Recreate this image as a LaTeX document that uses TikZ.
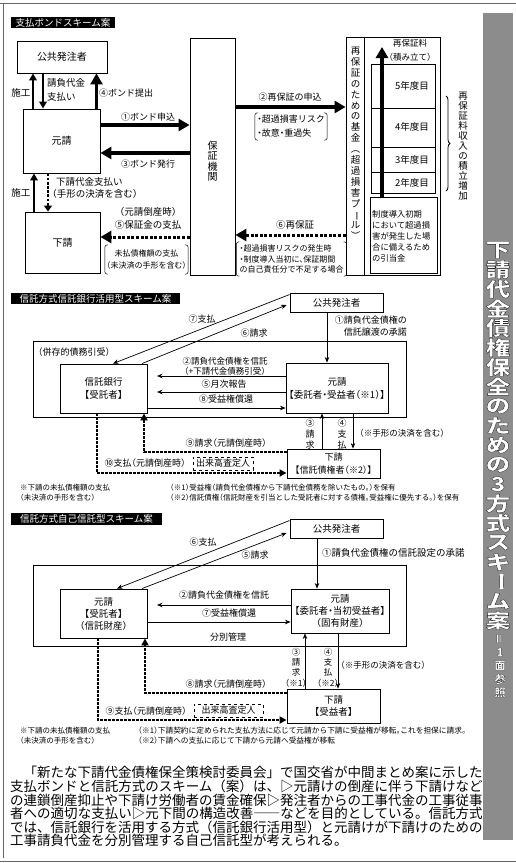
\documentclass[tikz,border=0pt]{standalone}
\usepackage{fontspec}
\setmainfont{Noto Sans CJK JP}[RawFeature={+halt}]
\newfontfamily\parafont{Noto Sans CJK JP}
\newfontfamily\titlefont{Noto Sans CJK JP}[FakeBold=1.6]
\usetikzlibrary{arrows.meta,decorations.pathreplacing,calc}
\newcommand\myfs[2]{\fontsize{#1}{#2}\selectfont}
\newcommand\vbar{\rotatebox[origin=c]{-90}{ー}}
\newcommand\outl{\special{pdf:literal direct 0.15 G}}
\newcommand\brk[1]{%
  \draw[line width=0.5pt,rounded corners=2.5pt] ([xshift=3pt]#1.north west) -- (#1.north west) -- (#1.south west) -- ([xshift=3pt]#1.south west);
  \draw[line width=0.5pt,rounded corners=2.5pt] ([xshift=-3pt]#1.north east) -- (#1.north east) -- (#1.south east) -- ([xshift=-3pt]#1.south east);}
\tikzset{
  box/.style={draw,line width=0.9pt,inner sep=0pt,align=center,font=\myfs{9.5}{12}},
  lbl/.style={inner sep=0pt,align=center,font=\myfs{9}{11}},
  ttl/.style={fill=black,text=white,inner sep=0pt,font=\myfs{9.5}{10}},
  tarrow/.style={line width=3.6pt,-{Triangle[length=11pt,width=12pt]}},
  marr/.style={line width=2pt,-{Triangle[length=7pt,width=7.5pt]}},
  tarr/.style={line width=0.7pt,-{Stealth[length=5.5pt,width=4.5pt]}},
  dsha/.style={line width=2.8pt,dash pattern=on 2.8pt off 1.4pt,-{Triangle[length=6pt,width=8pt]}},
  dshb/.style={line width=3pt,dash pattern=on 3pt off 1.6pt,-{Triangle[length=11pt,width=12pt]}},
  dshc/.style={line width=2.4pt,dash pattern=on 2.6pt off 1.4pt,-{Triangle[length=7pt,width=7pt]}},
  dbox/.style={draw,dashed,line width=0.7pt,inner sep=0pt,font=\myfs{9}{11}},
  vt/.style={inner sep=0pt,text=white,font=\titlefont\bfseries\myfs{19.5}{20}},
  vs/.style={inner sep=0pt,text=white,font=\titlefont\bfseries\myfs{11}{12}},
  para/.style={anchor=west,inner sep=0pt,font=\parafont\myfs{13.5}{14}},
}
\begin{document}
\begin{tikzpicture}[x=1pt,y=-1pt]
\useasboundingbox (0,0) rectangle (516,863);
\fill[white] (0,0) rectangle (516,863);
% frame
\draw[line width=0.8pt,black!60] (0,3) -- (516,3);
\draw[line width=0.8pt,black!60] (3,3) -- (3,858);
\draw[line width=0.8pt,black!60] (0,861) -- (516,861);
\fill[black!45] (483,13) rectangle (513,840);

% ================= Section 1 =================
\node[ttl,minimum width=104pt,minimum height=11pt] (t1) at (63,22.5) {支払ボンドスキーム案};
\node[box,minimum width=90pt,minimum height=32pt,font=\myfs{10}{12}] (pub1) at (62,57) {公共発注者};
\node[box,minimum width=77pt,minimum height=64pt,font=\myfs{10}{12}] (gen1) at (61.5,141) {元請};
\node[box,minimum width=75pt,minimum height=61pt,font=\myfs{10}{12}] (sub1) at (62.5,242.5) {下請};
\node[box,minimum width=45pt,minimum height=237pt] (guar) at (212.5,156.5) {};
\node[lbl,font=\myfs{10}{10.5}] (guart) at (212.5,161) {保\\証\\機\\関};
\node[box,minimum width=94pt,minimum height=238pt] (fund) at (393,156) {};
\draw[line width=0.9pt] ($(fund.north west)+(19,0)$) -- ($(fund.south west)+(19,0)$);
\node[lbl,font=\myfs{9.5}{10.9}] (fundt) at (355.5,143.5) {再\\保\\証\\の\\た\\め\\の\\基\\金\\︵\\超\\過\\損\\害\\プ\\\vbar\\ル\\︶};
\node[lbl,font=\myfs{8.5}{14}] (rate) at (410,50) {再保証料\\（積み立て）};
\node[draw,line width=0.7pt,minimum width=64pt,minimum height=129pt,inner sep=0pt] (years) at (403,128.5) {};
\draw[line width=0.7pt] (years.west |- 0,108) -- (years.east |- 0,108);
\draw[line width=0.7pt] (years.west |- 0,147) -- (years.east |- 0,147);
\draw[line width=0.7pt] (years.west |- 0,172) -- (years.east |- 0,172);
\node[lbl,font=\myfs{9.5}{11}] (y5) at (412,86) {5年度目};
\node[lbl,font=\myfs{9.5}{11}] (y4) at (412,127) {4年度目};
\node[lbl,font=\myfs{9.5}{11}] (y3) at (412,159.5) {3年度目};
\node[lbl,font=\myfs{9.5}{11}] (y2) at (412,182.5) {2年度目};
\node[draw,line width=0.7pt,minimum width=67pt,minimum height=76pt,inner sep=0pt] (hikiate) at (403.5,235) {};
\node[lbl,align=left,anchor=west,font=\myfs{8.3}{11}] (hikiatet) at (372,236) {制度導入初期\\において超過損\\害が発生した場\\合に備えるため\\の引当金};
\coordinate (ftop) at (382,47);
\draw[tarrow] (382,0 |- hikiate.north) -- (ftop);
\draw[decorate,decoration={brace,amplitude=4pt},line width=0.8pt] (446,96) -- (446,191);
\node[lbl,font=\myfs{9.5}{10}] (incr) at (463,146) {再\\保\\証\\料\\収\\入\\の\\積\\立\\増\\加};

% arrows section 1
\draw[marr] (33,0 |- gen1.north) -- (33,0 |- pub1.south);
\draw[marr] (43,0 |- pub1.south) -- (43,0 |- gen1.north);
\draw[tarrow] (96.5,0 |- gen1.north) -- (96.5,0 |- pub1.south);
\draw[tarrow] (gen1.east |- 0,125) -- (guar.west |- 0,125);
\draw[tarrow] (guar.west |- 0,153) -- (gen1.east |- 0,153);
\draw[tarrow] (guar.east |- 0,107) -- (fund.west |- 0,107);
\draw[marr] (34,0 |- sub1.north) -- (34,0 |- gen1.south);
\draw[dsha] (48,0 |- gen1.south) -- (48,0 |- sub1.north);
\draw[dshb] (guar.west |- 0,237) -- (sub1.east |- 0,237);
\draw[dshb] (fund.west |- 0,235) -- (guar.east |- 0,235);

% labels section 1
\node[lbl,font=\myfs{9.5}{12}] (l1a) at (21,93) {施工};
\node[lbl,font=\myfs{9.5}{14},align=left,anchor=west] (l1b) at (47,90) {請負代金\\支払い};
\node[lbl] (l1c) at (126,93) {④ボンド提出};
\node[lbl] (l1d) at (148,117) {①ボンド申込};
\node[lbl] (l1e) at (148,164) {③ボンド発行};
\node[lbl,font=\myfs{9.5}{12}] (l1f) at (21,193) {施工};
\node[lbl,font=\myfs{9.5}{11.5},align=left,anchor=west] (l1g) at (52,188) {\hspace{4pt}下請代金支払い\\（手形の決済を含む）};
\node[lbl,font=\myfs{9.5}{13}] (l1h) at (148,218.5) {（元請倒産時）\\⑤保証金の支払};
\node[lbl,font=\myfs{8}{12.5},minimum width=83pt,minimum height=29pt] (l1i) at (146.5,259.5) {未払債権額の支払\\（未決済の手形を含む）};
\brk{l1i}
\node[lbl] (l1j) at (290,97) {②再保証の申込};
\node[lbl,font=\myfs{9}{14},align=left,minimum width=72pt,minimum height=27pt] (l1k) at (291,126.5) {・超過損害リスク\\・故意・重過失};
\brk{l1k}
\node[lbl,font=\myfs{9.5}{11}] (l1l) at (295,225) {⑥再保証};
\node[lbl,font=\myfs{8}{10.5},align=left,minimum width=110pt,minimum height=34pt] (l1m) at (291.5,259) {・超過損害リスクの発生時\\・制度導入当初に、保証期間\\の自己責任分で不足する場合};
\brk{l1m}

% ================= Section 2 =================
\node[ttl,minimum width=169pt,minimum height=11pt] (t2) at (95.5,298.5) {信託方式信託銀行活用型スキーム案};
\node[box,minimum width=93pt,minimum height=19pt] (pub2) at (336.5,302.5) {公共発注者};
\node[draw,line width=0.9pt,minimum width=373pt,minimum height=76pt,inner sep=0pt] (out2) at (219.5,379) {};
\node[box,fill=white,minimum width=87pt,minimum height=49pt,font=\myfs{9.5}{13}] (bank) at (103.5,388.5) {信託銀行\\【受託者】};
\node[box,fill=white,minimum width=102pt,minimum height=50pt,font=\myfs{9.5}{13}] (gen2) at (337,388) {元請\\【委託者・受益者（※1）】};
\node[box,fill=white,minimum width=93pt,minimum height=29pt,font=\myfs{9}{13}] (sub2) at (333.5,463.5) {下請\\【信託債権者（※2）】};

\coordinate (c2a) at ($(pub2.north west)+(0,2)$);
\coordinate (c2b) at ($(pub2.west)+(-3,2.5)$);
\draw[tarr] (c2a) -- (113,0 |- bank.north);
\draw[tarr] (142,0 |- bank.north) -- (c2b);
\draw[tarr] (327,0 |- pub2.south) -- (327,0 |- gen2.north);
\coordinate (c2c) at (157,376);
\coordinate (c2d) at (157,392);
\draw[tarr] (gen2.west |- c2c) -- (c2c);
\draw[tarr] (gen2.west |- c2d) -- (c2d);
\draw[tarr] (bank.east |- 0,408) -- (gen2.west |- 0,408);
\draw[tarr] (322,0 |- sub2.north) -- (322,0 |- gen2.south);
\draw[tarr] (353,0 |- gen2.south) -- (353,0 |- sub2.north);
\draw[dshc] (sub2.west |- 0,452) -| (144,0 |- bank.south);
\draw[dshc] (97,0 |- bank.south) |- (sub2.west |- 0,473);

\node[lbl] (l2a) at (202,319) {⑦支払};
\node[lbl] (l2b) at (254,333) {⑥請求};
\node[lbl,font=\myfs{9}{12},align=right,anchor=east] (l2c) at (407,326) {①請負代金債権の\\信託譲渡の承諾};
\node[lbl] (l2d) at (74,352) {（併存的債務引受）};
\node[lbl,font=\myfs{8.5}{10}] (l2e) at (225,366.5) {②請負代金債権を信託\\（+下請代金債務引受）};
\node[lbl] (l2f) at (224,384) {⑤月次報告};
\node[lbl] (l2g) at (226,399) {⑧受益権償還};
\node[lbl,font=\myfs{9}{11}] (l2h) at (310,434) {③\\請\\求};
\node[lbl,font=\myfs{9}{11}] (l2i) at (342,434) {④\\支\\払};
\node[lbl,font=\myfs{8.5}{11}] (l2j) at (402,433) {（※手形の決済を含む）};
\node[lbl] (l2k) at (226,443) {⑨請求（元請倒産時）};
\node[lbl] (l2l) at (145,463) {⑩支払（元請倒産時）};
\node[dbox,minimum width=60pt,minimum height=13pt] (l2m) at (223,463.5) {出来高査定人};
\node[lbl,font=\myfs{7.5}{9.5},align=left,anchor=west] (n2a) at (20,492.5) {※下請の未払債権額の支払\\（未決済の手形を含む）};
\node[lbl,font=\myfs{7.5}{9.5},align=left,anchor=west] (n2b) at (170,492.5) {（※1）受益権（請負代金債権から下請代金債務を除いたもの。）を保有\\（※2）信託債権（信託財産を引当とした受託者に対する債権。受益権に優先する。）を保有};

% ================= Section 3 =================
\node[ttl,minimum width=151pt,minimum height=12pt] (t3) at (86.5,519) {信託方式自己信託型スキーム案};
\node[box,minimum width=93pt,minimum height=19pt] (pub3) at (336.5,528.5) {公共発注者};
\node[draw,line width=0.9pt,minimum width=373pt,minimum height=81pt,inner sep=0pt] (out3) at (219.5,605.5) {};
\node[box,fill=white,minimum width=87pt,minimum height=49pt,font=\myfs{9.5}{12}] (gen3a) at (103.5,613.5) {元請\\【受託者】\\（信託財産）};
\node[box,fill=white,minimum width=98pt,minimum height=44pt,font=\myfs{9.5}{12}] (gen3b) at (340,611) {元請\\【委託者・当初受益者】\\（固有財産）};
\node[box,fill=white,minimum width=93pt,minimum height=34pt,font=\myfs{9.5}{12}] (sub3) at (333.5,706) {下請\\【受益者】};

\coordinate (c3a) at ($(pub3.north west)+(0,2)$);
\coordinate (c3b) at ($(pub3.west)+(-3,4.5)$);
\draw[tarr] (c3a) -- (117,0 |- gen3a.north);
\draw[tarr] (142,0 |- gen3a.north) -- (c3b);
\draw[tarr] (317,0 |- pub3.south) -- (317,0 |- gen3b.north);
\coordinate (c3c) at (157,605);
\draw[tarr] (gen3b.west |- c3c) -- (c3c);
\draw[tarr] (gen3a.east |- 0,622) -- (gen3b.west |- 0,622);
\draw[tarr] (305,0 |- sub3.north) -- (305,0 |- gen3b.south);
\draw[tarr] (338,0 |- gen3b.south) -- (338,0 |- sub3.north);
\draw[dshc] (sub3.west |- 0,693) -| (145,0 |- gen3a.south);
\draw[dshc] (98,0 |- gen3a.south) |- (sub3.west |- 0,720);

\node[lbl] (l3a) at (203,542) {⑥支払};
\node[lbl] (l3b) at (255,555) {⑤請求};
\node[lbl,anchor=west,font=\myfs{9.5}{11}] (l3c) at (322,553) {①請負代金債権の信託設定の承諾};
\node[lbl] (l3d) at (224,595) {②請負代金債権を信託};
\node[lbl] (l3e) at (229,613) {⑦受益権償還};
\node[lbl] (l3f) at (228,637) {分別管理};
\node[lbl,font=\myfs{8.5}{10.3}] (l3g) at (296,667.5) {③\\請\\求\\（※1）};
\node[lbl,font=\myfs{8.5}{10.3}] (l3h) at (328,667.5) {④\\支\\払\\（※2）};
\node[lbl,font=\myfs{8.5}{11}] (l3i) at (383,665) {（※手形の決済を含む）};
\node[lbl] (l3j) at (226,684) {⑧請求（元請倒産時）};
\node[lbl] (l3k) at (146,711) {⑨支払（元請倒産時）};
\node[dbox,minimum width=69pt,minimum height=13pt] (l3l) at (228.5,710.5) {出来高査定人};
\node[lbl,font=\myfs{7.5}{9.5},align=left,anchor=west] (n3a) at (20,735.5) {※下請の未払債権額の支払\\（未決済の手形を含む）};
\node[lbl,font=\myfs{7.7}{9.5},align=left,anchor=west] (n3b) at (138,735.5) {（※1）下請契約に定められた支払方法に応じて元請から下請に受益権が移転。これを担保に請求。\\（※2）下請への支払に応じて下請から元請へ受益権が移転};

% ================= Paragraph =================
\node[para] (p1) at (23.5,772) {\resizebox{459pt}{\height}{「新たな下請代金債権保全策検討委員会」で国交省が中間まとめ案に示した}};
\node[para] (p2) at (10,786) {\resizebox{472.5pt}{\height}{支払ボンドと信託方式のスキーム（案）は、▷元請けの倒産に伴う下請けなど}};
\node[para] (p3) at (10,800) {\resizebox{472.5pt}{\height}{の連鎖倒産抑止や下請け労働者の賃金確保▷発注者からの工事代金の工事従事}};
\node[para] (p4) at (10,813.5) {\resizebox{472.5pt}{\height}{者への適切な支払い▷元下間の構造改善――などを目的としている。信託方式}};
\node[para] (p5) at (10,827) {\resizebox{472.5pt}{\height}{では、信託銀行を活用する方式（信託銀行活用型）と元請けが下請けのための}};
\node[para] (p6) at (10,840.5) {工事請負代金を分別管理する自己信託型が考えられる。};

% ================= Vertical title =================
\foreach \ch [count=\i] in {下,請,代,金,債,権,保,全,の,た,め,の,3,方,式,ス,キ,{\vbar},ム,案}{
  \node[vt] (vw\i) at (498,230.5+19.5*\i) {\outl\scalebox{1.25}[1]{\ch}};
}
\foreach \ch [count=\i] in {{\rotatebox[origin=c]{90}{＝}},1,面,参,照}{
  \node[vs] (sw\i) at (500,625+13.5*\i) {\outl\ch};
}
\end{tikzpicture}
\end{document}
